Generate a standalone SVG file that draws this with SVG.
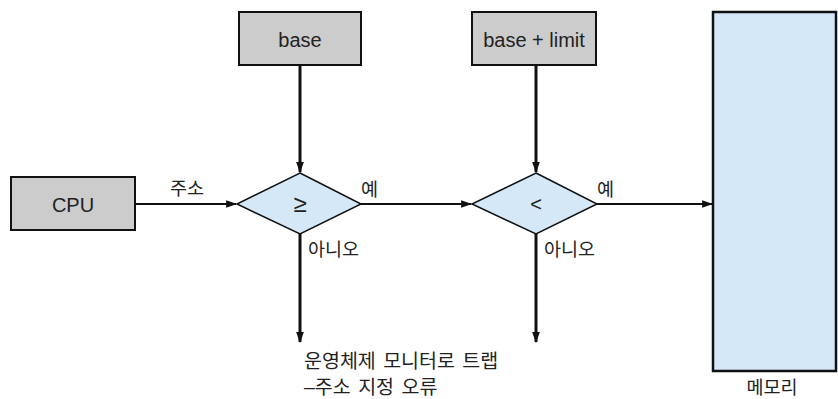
<svg xmlns="http://www.w3.org/2000/svg" width="838" height="399" viewBox="0 0 838 399">
  <style>
    .box { fill: #cccccc; stroke: #111; stroke-width: 2; }
    .dia { fill: #d4e8f8; stroke: #111; stroke-width: 1.5; }
    .mem { fill: #d4e8f8; stroke: #111; stroke-width: 2.5; }
    .lbl { font-family: "Liberation Sans", "Noto Sans CJK KR", sans-serif; font-size: 18.5px; fill: #222; }
    .en { font-size: 20px; }
    .op { font-size: 24px; }
    .mid { text-anchor: middle; }
    .wide { font-size: 19.5px; word-spacing: 2px; }
    .h { stroke: #111; stroke-width: 2; fill: none; }
    .v { stroke: #111; stroke-width: 3; fill: none; }
  </style>
  <defs>
    <marker id="arrv" viewBox="0 0 10 10" refX="9" refY="5" markerWidth="11" markerHeight="11" orient="auto" markerUnits="userSpaceOnUse">
      <path d="M0,1.5 L10,5 L0,8.5 Z" fill="#111"/>
    </marker>
  </defs>

  <g id="connectors">
    <line class="h" x1="135" y1="204" x2="236" y2="204" marker-end="url(#arrv)"/>
    <line class="h" x1="361" y1="204" x2="471" y2="204" marker-end="url(#arrv)"/>
    <line class="h" x1="597" y1="204" x2="712" y2="204" marker-end="url(#arrv)"/>
    <line class="v" x1="300" y1="65" x2="300" y2="172" marker-end="url(#arrv)"/>
    <line class="v" x1="536" y1="65" x2="536" y2="172" marker-end="url(#arrv)"/>
    <line class="v" x1="300" y1="233" x2="300" y2="342" marker-end="url(#arrv)"/>
    <line class="v" x1="536" y1="233" x2="536" y2="342" marker-end="url(#arrv)"/>
    <text class="lbl" x="170" y="195">주소</text>
    <text class="lbl" x="361" y="196">예</text>
    <text class="lbl" x="308" y="256">아니오</text>
    <text class="lbl" x="597" y="196">예</text>
    <text class="lbl" x="544" y="256">아니오</text>
  </g>

  <g id="cpu">
    <rect class="box" x="11" y="177" width="124" height="53"/>
    <text class="lbl en mid" x="73" y="212">CPU</text>
  </g>

  <g id="base">
    <rect class="box" x="239" y="12" width="122" height="53"/>
    <text class="lbl en mid" x="300" y="47">base</text>
  </g>

  <g id="base-limit">
    <rect class="box" x="472" y="12" width="124" height="53"/>
    <text class="lbl en mid" x="534" y="47">base + limit</text>
  </g>

  <g id="check-ge">
    <polygon class="dia" points="300,173 361,204 300,234 237,204"/>
    <text class="lbl op mid" x="300" y="212">≥</text>
  </g>

  <g id="check-lt">
    <polygon class="dia" points="536,173 597,204 536,234 472,204"/>
    <text class="lbl en mid" x="536" y="211">&lt;</text>
  </g>

  <g id="memory">
    <rect class="mem" x="713" y="12" width="123" height="359"/>
    <text class="lbl mid" x="772" y="394">메모리</text>
  </g>

  <g id="trap">
    <text class="lbl wide" x="304" y="368">운영체제 모니터로 트랩</text>
    <text class="lbl wide" x="304" y="394">–주소 지정 오류</text>
  </g>
</svg>
